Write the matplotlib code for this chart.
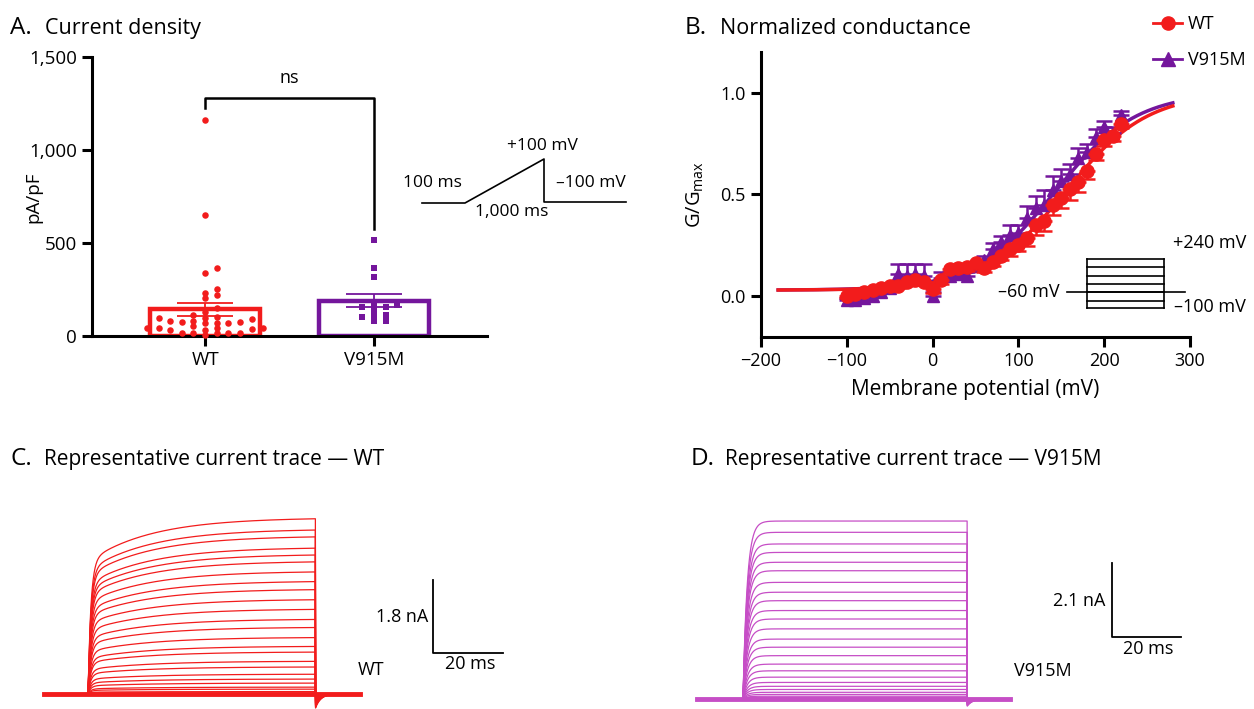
import numpy as np
import matplotlib
matplotlib.use("Agg")
import matplotlib.pyplot as plt
from matplotlib.lines import Line2D

plt.rcParams['font.family'] = ['Open Sans', 'DejaVu Sans']
plt.rcParams['mathtext.fontset'] = 'custom'
plt.rcParams['mathtext.rm'] = 'Open Sans'

# ---- data ----
# A. current density (pA/pF), single cells
groups = ['WT', 'V915M']
wt_density = [1160, 650, 365, 340, 250, 232, 222, 203, 152, 127, 113, 102, 95, 91,
              82, 77, 77, 68, 72, 80, 95, 70, 41, 54, 36, 41, 32, 32, 41, 41,
              18, 18, 5, 14, 18, 18]
v915m_density = [516, 367, 319, 136, 158, 158, 167, 163, 82, 113, 104, 108, 81]

# B. normalized conductance
voltage = list(range(-100, 230, 10))
wt_g = [0.00, 0.01, 0.02, 0.03, 0.04, 0.05, 0.05, 0.07, 0.08, 0.07, 0.035, 0.08,
        0.135, 0.14, 0.145, 0.165, 0.14, 0.17, 0.20, 0.23, 0.25, 0.285, 0.35,
        0.37, 0.45, 0.485, 0.525, 0.56, 0.615, 0.70, 0.77, 0.785, 0.845]
wt_g_sem = [0.01, 0.01, 0.01, 0.01, 0.01, 0.01, 0.01, 0.01, 0.01, 0.01, 0.02, 0.02,
            0.02, 0.02, 0.02, 0.02, 0.02, 0.02, 0.02, 0.03, 0.03, 0.04, 0.05,
            0.05, 0.05, 0.05, 0.05, 0.05, 0.04, 0.03, 0.03, 0.02, 0.02]
v915m_g = [-0.02, -0.02, -0.01, 0.0, 0.02, 0.04, 0.11, 0.10, 0.11, 0.10, 0.0, 0.09,
           0.10, 0.11, 0.10, 0.15, 0.18, 0.23, 0.265, 0.30, 0.31, 0.385, 0.435,
           0.45, 0.52, 0.565, 0.60, 0.68, 0.71, 0.78, 0.83, 0.80, 0.89]
v915m_g_sem = [0.01, 0.01, 0.01, 0.01, 0.01, 0.02, 0.05, 0.06, 0.05, 0.06, 0.02, 0.03,
               0.02, 0.02, 0.02, 0.02, 0.02, 0.03, 0.03, 0.05, 0.04, 0.06, 0.06,
               0.07, 0.07, 0.06, 0.05, 0.05, 0.04, 0.04, 0.03, 0.03, 0.02]
# Boltzmann fits: bottom, top, V1/2 (mV), slope (mV)
wt_fit = (0.03, 1.0, 155, 47.5)
v915m_fit = (0.03, 1.0, 143, 47.0)

# C/D. steady-state amplitude of each sweep (nA)
wt_sweeps = [4.35, 4.07, 3.90, 3.62, 3.45, 3.28, 3.03, 2.79, 2.59, 2.34, 2.10, 1.85,
             1.65, 1.40, 1.18, 1.04, 0.81, 0.67, 0.49, 0.37, 0.27, 0.17, 0.12, 0.06, 0.02]
v915m_sweeps = [5.05, 4.73, 4.40, 4.16, 3.88, 3.64, 3.31, 3.03, 2.79, 2.51, 2.27, 1.99,
                1.70, 1.47, 1.23, 0.99, 0.80, 0.62, 0.47, 0.36, 0.27, 0.19, 0.13, 0.08, 0.05]
step_ms = 65

RED = '#f21c1c'
PURPLE = '#74169c'
MAGENTA = '#c64ec6'

W, H = 1254, 709
fig = plt.figure(figsize=(W / 100, H / 100), dpi=100)


def px_axes(l, t, r, b):
    return fig.add_axes([l / W, 1 - b / H, (r - l) / W, (b - t) / H])


def ftext(x, y, s, **kw):
    fig.text(x / W, 1 - y / H, s, **kw)


def fline(xs, ys, **kw):
    fig.add_artist(Line2D([x / W for x in xs], [1 - y / H for y in ys],
                          transform=fig.transFigure, color='black', lw=1.2, **kw))


def title(x, y, letter, s, size=15.5, gap=35):
    ftext(x, y, letter, fontsize=17.5, va='baseline')
    ftext(x + gap, y, s, fontsize=size, va='baseline')


def swarm(vals, dx, dy):
    xs = np.zeros(len(vals))
    placed = []
    for i in np.argsort(vals):
        v = vals[i]
        for k in range(60):
            off = ((k + 1) // 2) * dx * (1 if k % 2 == 1 else -1)
            if all(((off - px) / dx) ** 2 + ((v - pv) / dy) ** 2 >= 0.95 for px, pv in placed):
                break
        xs[i] = off
        placed.append((off, v))
    return xs


def boltz(v, p):
    bottom, top, vh, k = p
    return bottom + (top - bottom) / (1 + np.exp((vh - v) / k))


# ---------- A ----------
axA = px_axes(92, 57, 487, 336)
axA.set_xlim(-0.67, 1.67)
axA.set_ylim(0, 1500)
for i, (vals, c, mk) in enumerate([(wt_density, RED, 'o'), (v915m_density, PURPLE, 's')]):
    vals = np.array(vals, dtype=float)
    m = vals.mean()
    sem = vals.std(ddof=1) / np.sqrt(len(vals))
    axA.bar(i, m, width=0.65, facecolor='none', edgecolor=c, linewidth=3.2, zorder=2)
    axA.scatter(i + swarm(vals, 0.069, 27), vals, s=22, marker=mk, color=c,
                linewidths=0, zorder=3, clip_on=False)
    axA.errorbar(i, m, yerr=sem, color=c, capsize=20, elinewidth=1.3,
                 capthick=1.3, zorder=4)
axA.plot([0, 0, 1, 1], [1225, 1282, 1282, 575], color='black', lw=1.8)
axA.text(0.5, 1340, 'ns', ha='center', va='bottom', fontsize=13)
axA.set_xticks([0, 1])
axA.set_xticklabels(groups)
axA.set_yticks([0, 500, 1000, 1500])
axA.set_yticklabels(['0', '500', '1,000', '1,500'])
for s in ['top', 'right']:
    axA.spines[s].set_visible(False)
for s in ['left', 'bottom']:
    axA.spines[s].set_linewidth(2.2)
axA.tick_params(width=2.2, length=7, labelsize=13.5, pad=4)
ftext(33, 197, 'pA/pF', rotation=90, ha='center', va='center', fontsize=13.5)
title(10, 34, 'A.', 'Current density')

# ramp protocol
fline([422, 465, 544, 544, 626], [203, 203, 159, 202, 202])
ftext(542, 146, '+100 mV', ha='center', va='center', fontsize=12.5)
ftext(432, 183, '100 ms', ha='center', va='center', fontsize=12.5)
ftext(591, 183, '\u2013100 mV', ha='center', va='center', fontsize=12.5)
ftext(512, 212, '1,000 ms', ha='center', va='center', fontsize=12.5)

# ---------- B ----------
axB = px_axes(761, 52, 1190, 337)
axB.set_xlim(-200, 300)
axB.set_ylim(-0.2, 1.2)
vfit = np.linspace(-180, 280, 300)
axB.plot(vfit, boltz(vfit, v915m_fit), color=PURPLE, lw=2.5, zorder=2)
axB.plot(vfit, boltz(vfit, wt_fit), color=RED, lw=2.5, zorder=2)
axB.errorbar(voltage, v915m_g, yerr=[np.zeros(len(v915m_g_sem)), v915m_g_sem],
             fmt='^', color=PURPLE, ms=9, capsize=6, elinewidth=1.8, capthick=1.8, zorder=3)
axB.errorbar(voltage, wt_g, yerr=[wt_g_sem, np.zeros(len(wt_g_sem))],
             fmt='o', color=RED, ms=9.5, capsize=6, elinewidth=1.8, capthick=1.8, zorder=4)
axB.set_xticks(range(-200, 301, 100))
axB.set_yticks([0, 0.5, 1.0])
axB.set_yticklabels(['0.0', '0.5', '1.0'])
for s in ['top', 'right']:
    axB.spines[s].set_visible(False)
for s in ['left', 'bottom']:
    axB.spines[s].set_linewidth(2.2)
axB.tick_params(width=2.2, length=7, labelsize=13, pad=4)
axB.set_xlabel('Membrane potential (mV)', fontsize=15, labelpad=6)
ftext(695, 195, r'G/G$_\mathregular{max}$', rotation=90, ha='center', va='center', fontsize=14.5)
title(685, 34, 'B.', 'Normalized conductance')
handles = [Line2D([], [], color=RED, marker='o', ms=9.5, lw=2),
           Line2D([], [], color=PURPLE, marker='^', ms=9.5, lw=2)]
fig.legend(handles, groups, loc='upper left', bbox_to_anchor=(1146 / W, 1 - 8 / H),
           frameon=False, handlelength=1.6, handletextpad=0.3, labelspacing=1.0,
           fontsize=13, borderaxespad=0)

# step protocol
rect_y = [259, 267, 276, 284, 292, 301, 308]
for y in rect_y:
    fline([1087, 1164], [y, y])
fline([1087, 1087], [259, 308])
fline([1164, 1164], [259, 308])
fline([1067, 1185], [292, 292])
ftext(1210, 243, '+240 mV', ha='center', va='center', fontsize=13)
ftext(1060, 292, '\u201360 mV', ha='right', va='center', fontsize=13)
ftext(1210, 307, '\u2013100 mV', ha='center', va='center', fontsize=13)


# ---------- C / D ----------
def draw_traces(ax, amps, color, tau_fast, slow_frac, tau_slow, tail_frac, pre, post):
    t = np.linspace(-pre, step_ms + post, 2000)
    on = (t >= 0) & (t < step_ms)
    after = t >= step_ms
    for a in amps:
        i = np.zeros_like(t)
        i[on] = a * (1 - np.exp(-t[on] / tau_fast)) * (1 - slow_frac * np.exp(-t[on] / tau_slow))
        i[after] = -tail_frac * a * np.exp(-(t[after] - step_ms) / 1.5)
        ax.plot(t, i, color=color, lw=0.9)
    ax.plot([-pre, step_ms + post], [0, 0], color=color, lw=3.5)
    ax.axis('off')


axC = px_axes(0, 470, 620, 709)
axC.set_xlim(-88 / 3.5, (620 - 88) / 3.5)
axC.set_ylim((694 - 709) / 40.56, (694 - 470) / 40.56)
draw_traces(axC, wt_sweeps, RED, 0.8, 0.25, 18, 0.08, 12.6, 12.6)
axC.plot([98.6, 98.6, 118.6], [1.01 + 1.8, 1.01, 1.01], color='black', lw=1.3)
ftext(428, 617, '1.8 nA', ha='right', va='center', fontsize=13)
ftext(470, 664, '20 ms', ha='center', va='center', fontsize=13)
ftext(371, 670, 'WT', ha='center', va='center', fontsize=13)
title(10, 465, 'C.', 'Representative current trace \u2014 WT', size=15, gap=34)

axD = px_axes(620, 470, 1254, 709)
axD.set_xlim((620 - 743) / 3.45, (1254 - 743) / 3.45)
axD.set_ylim((699 - 709) / 35.24, (699 - 470) / 35.24)
draw_traces(axD, v915m_sweeps, MAGENTA, 1.2, 0.0, 18, 0.04, 13.3, 12.5)
axD.plot([107, 107, 127], [1.76 + 2.1, 1.76, 1.76], color='black', lw=1.3)
ftext(1105, 601, '2.1 nA', ha='right', va='center', fontsize=13)
ftext(1148, 649, '20 ms', ha='center', va='center', fontsize=13)
ftext(1043, 671, 'V915M', ha='center', va='center', fontsize=13)
title(691, 465, 'D.', 'Representative current trace \u2014 V915M', size=15, gap=34)

fig.savefig('out.png', dpi=100)
